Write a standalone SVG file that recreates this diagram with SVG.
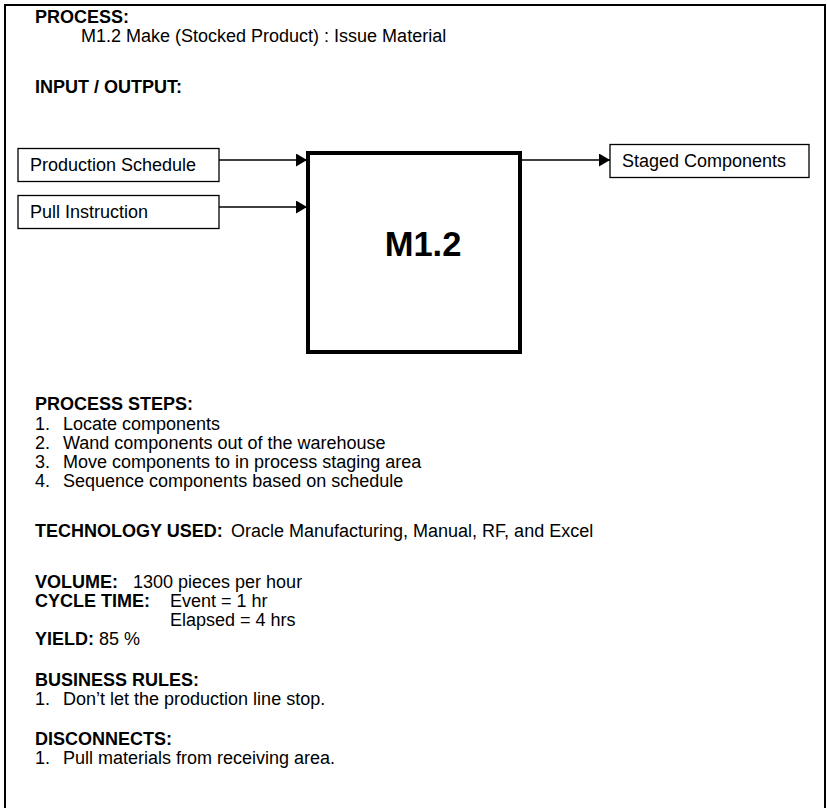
<svg xmlns="http://www.w3.org/2000/svg" width="827" height="808" viewBox="0 0 827 808">
<style>
text{font-family:"Liberation Sans",Arial,sans-serif;font-size:18px;fill:#000}
.b{font-weight:bold}
.box{fill:#fff;stroke:#000;stroke-width:1.3}
.conn{stroke:#000;stroke-width:1.3;fill:none}
</style>
<defs>
<marker id="ah" viewBox="0 0 10 12" refX="10" refY="6" markerWidth="11" markerHeight="13" markerUnits="userSpaceOnUse" orient="auto" preserveAspectRatio="none">
<path d="M0,0 L10,6 L0,12 Z" fill="#000"/>
</marker>
</defs>
<rect width="827" height="808" fill="#fff"/>
<rect x="5" y="5" width="820" height="820" fill="none" stroke="#000" stroke-width="2"/>

<g id="header">
<text class="b" x="35" y="23">PROCESS:</text>
<text x="81" y="42">M1.2 Make (Stocked Product) : Issue Material</text>
<text class="b" x="35" y="93">INPUT / OUTPUT:</text>
</g>

<g id="connectors">
<line class="conn" x1="219" y1="160" x2="307" y2="160" marker-end="url(#ah)"/>
<line class="conn" x1="219" y1="207" x2="307" y2="207" marker-end="url(#ah)"/>
<line class="conn" x1="522" y1="160" x2="610" y2="160" marker-end="url(#ah)"/>
</g>

<g id="in-production-schedule">
<rect class="box" x="18" y="148.5" width="201" height="33"/>
<text x="30" y="171">Production Schedule</text>
</g>
<g id="in-pull-instruction">
<rect class="box" x="18" y="195.5" width="201" height="33"/>
<text x="30" y="218">Pull Instruction</text>
</g>
<g id="process-m12">
<rect x="308" y="153" width="212" height="199" fill="#fff" stroke="#000" stroke-width="4"/>
<text class="b" x="423" y="256" text-anchor="middle" style="font-size:34.5px">M1.2</text>
</g>
<g id="out-staged-components">
<rect class="box" x="610" y="144.5" width="199" height="33"/>
<text x="622" y="167">Staged Components</text>
</g>

<g id="details">
<text class="b" x="35" y="410">PROCESS STEPS:</text>
<text x="35" y="430">1.</text><text x="63" y="430">Locate components</text>
<text x="35" y="449">2.</text><text x="63" y="449">Wand components out of the warehouse</text>
<text x="35" y="468">3.</text><text x="63" y="468">Move components to in process staging area</text>
<text x="35" y="487">4.</text><text x="63" y="487">Sequence components based on schedule</text>

<text class="b" x="35" y="537">TECHNOLOGY USED:</text>
<text x="231" y="537">Oracle Manufacturing, Manual, RF, and Excel</text>

<text class="b" x="35" y="588">VOLUME:</text>
<text x="133" y="588">1300 pieces per hour</text>
<text class="b" x="35" y="607">CYCLE TIME:</text>
<text x="170" y="607">Event = 1 hr</text>
<text x="170" y="626">Elapsed = 4 hrs</text>
<text class="b" x="35" y="645">YIELD:</text>
<text x="99" y="645">85 %</text>

<text class="b" x="35" y="686">BUSINESS RULES:</text>
<text x="35" y="705">1.</text><text x="63" y="705">Don’t let the production line stop.</text>

<text class="b" x="35" y="745">DISCONNECTS:</text>
<text x="35" y="764">1.</text><text x="63" y="764">Pull materials from receiving area.</text>
</g>
</svg>
